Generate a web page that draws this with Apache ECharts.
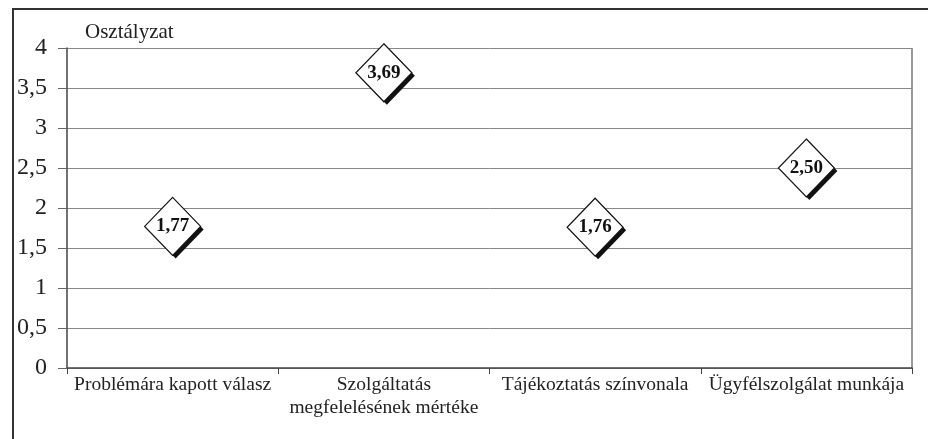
<!DOCTYPE html>
<html>
<head>
<meta charset="utf-8">
<script src="https://cdn.jsdelivr.net/npm/echarts@6/dist/echarts.min.js"></script>
<style>
    html, body { margin: 0; padding: 0; background: #ffffff; }
    #chart { width: 928px; height: 439px; }
</style>
</head>
<body>
<div id="chart"></div>
<script>
// chart data
const categories = [
    'Problémára kapott válasz',
    'Szolgáltatás\nmegfelelésének mértéke',
    'Tájékoztatás színvonala',
    'Ügyfélszolgálat munkája'
];
const grades = [1.77, 3.69, 1.76, 2.50];
const yTicks = [0, 0.5, 1, 1.5, 2, 2.5, 3, 3.5, 4];

const font = '"Liberation Serif", "Times New Roman", serif';
const myChart = echarts.init(document.getElementById('chart'));

myChart.setOption({
    animation: false,
    textStyle: { fontFamily: font },
    grid: { left: 67, right: 16, top: 48, bottom: 71 },
    title: {
        text: 'Osztályzat',
        left: 85,
        top: 22,
        padding: 0,
        textStyle: { fontFamily: font, fontSize: 21, fontWeight: 'normal', color: '#222' }
    },
    graphic: [
        {
            type: 'rect',
            shape: { x: 13, y: 9, width: 940, height: 460 },
            style: { fill: 'none', stroke: '#333', lineWidth: 2 },
            silent: true
        },
        {
            type: 'line',
            shape: { x1: 912, y1: 48, x2: 912, y2: 368 },
            style: { stroke: '#777', lineWidth: 1.5 },
            silent: true
        }
    ],
    xAxis: {
        type: 'category',
        data: categories,
        axisLine: { lineStyle: { color: '#444', width: 1.5 } },
        axisTick: { show: true, length: 6, lineStyle: { color: '#444' } },
        axisLabel: {
            color: '#222',
            fontSize: 19.5,
            fontFamily: font,
            margin: 5,
            lineHeight: 23,
            interval: 0
        }
    },
    yAxis: {
        type: 'value',
        min: 0,
        max: 4,
        interval: 0.5,
        axisLine: { show: true, lineStyle: { color: '#444', width: 1.5 } },
        axisTick: { show: true, length: 9, lineStyle: { color: '#666' } },
        splitLine: { lineStyle: { color: '#888', width: 1 } },
        axisLabel: {
            color: '#222',
            fontSize: 24,
            fontFamily: font,
            margin: 20,
            formatter: v => (yTicks.includes(v) ? String(v).replace('.', ',') : '')
        }
    },
    series: [
        {
            // shadow of the diamonds
            type: 'scatter',
            data: grades,
            symbol: 'diamond',
            symbolSize: [56, 58],
            symbolOffset: [3, 3],
            silent: true,
            itemStyle: { color: '#111', opacity: 1 },
            z: 2
        },
        {
            type: 'scatter',
            data: grades,
            symbol: 'diamond',
            symbolSize: [56, 58],
            itemStyle: {
                color: '#ffffff',
                opacity: 1,
                borderColor: '#111',
                borderWidth: 1.2
            },
            z: 3,
            label: {
                show: true,
                position: 'inside',
                formatter: p => p.value.toFixed(2).replace('.', ','),
                fontFamily: font,
                fontSize: 19,
                fontWeight: 'bold',
                color: '#111'
            }
        }
    ]
});
</script>
</body>
</html>
